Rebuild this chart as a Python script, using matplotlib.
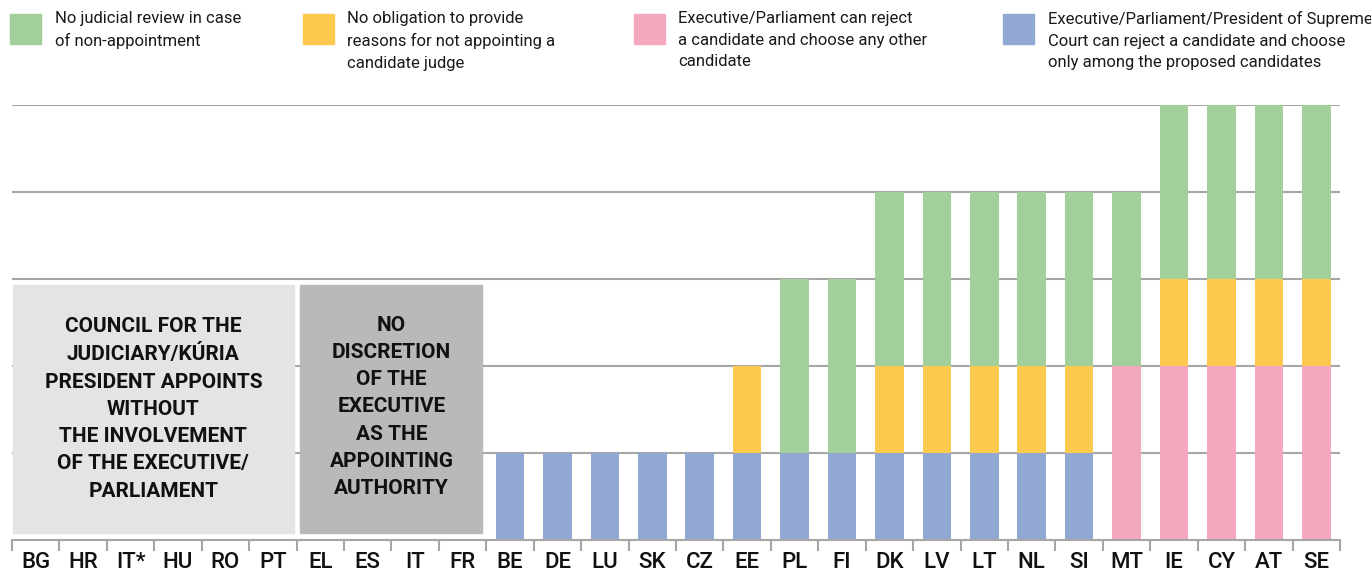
import matplotlib.pyplot as plt
from matplotlib.patches import Rectangle
import numpy as np

plt.rcParams['font.family'] = ['Roboto', 'DejaVu Sans']

countries = ['BG', 'HR', 'IT*', 'HU', 'RO', 'PT', 'EL', 'ES', 'IT', 'FR',
             'BE', 'DE', 'LU', 'SK', 'CZ', 'EE', 'PL', 'FI', 'DK', 'LV',
             'LT', 'NL', 'SI', 'MT', 'IE', 'CY', 'AT', 'SE']

# stacked layers, bottom to top
blue = [0] * 10 + [1] * 13 + [0] * 5
pink = [0] * 23 + [2] * 5
yellow = [0] * 15 + [1, 0, 0, 1, 1, 1, 1, 1, 0, 1, 1, 1, 1]
green = [0] * 16 + [2] * 12

labels = ['No judicial review in case\nof non-appointment',
          'No obligation to provide\nreasons for not appointing a\ncandidate judge',
          'Executive/Parliament can reject\na candidate and choose any other\ncandidate',
          'Executive/Parliament/President of Supreme\nCourt can reject a candidate and choose\nonly among the proposed candidates']
colors = ['#A3CF9B', '#FDC94F', '#F4A8BE', '#91A9D2']

box1_text = ('COUNCIL FOR THE\nJUDICIARY/KÚRIA\nPRESIDENT APPOINTS\nWITHOUT\n'
             'THE INVOLVEMENT\nOF THE EXECUTIVE/\nPARLIAMENT')
box2_text = 'NO\nDISCRETION\nOF THE\nEXECUTIVE\nAS THE\nAPPOINTING\nAUTHORITY'

fig = plt.figure(figsize=(13.71, 5.71), dpi=100)
ax = fig.add_axes([12 / 1371, 31 / 571, 1328 / 1371, 435 / 571])

x = np.arange(len(countries))
w = 0.6
b = np.array(blue)
p = np.array(pink)
y = np.array(yellow)
g = np.array(green)
ax.bar(x, b, w, color=colors[3], zorder=2)
ax.bar(x, p, w, bottom=b, color=colors[2], zorder=2)
ax.bar(x, y, w, bottom=b + p, color=colors[1], zorder=2)
ax.bar(x, g, w, bottom=b + p + y, color=colors[0], zorder=2)

# shaded groups without bars
ax.add_patch(Rectangle((-0.48, 0.08), 5.93, 2.85, color='#E4E4E4', zorder=3))
ax.add_patch(Rectangle((5.58, 0.08), 3.84, 2.85, color='#B9B9BB', zorder=3))
ax.text(2.48, 1.51, box1_text, ha='center', va='center', fontsize=15,
        fontweight='bold', linespacing=1.55, zorder=4, color='#111111')
ax.text(7.5, 1.53, box2_text, ha='center', va='center', fontsize=15,
        fontweight='bold', linespacing=1.55, zorder=4, color='#111111')

ax.set_xlim(-0.5, len(countries) - 0.5)
ax.set_ylim(0, 5)
for lvl in range(1, 6):
    ax.axhline(lvl, color='#A6A6A6', lw=1.5, zorder=1)
for s in ['top', 'right', 'left']:
    ax.spines[s].set_visible(False)
ax.spines['bottom'].set_color('#A6A6A6')
ax.spines['bottom'].set_linewidth(1.5)
ax.set_yticks([])
ax.set_xticks(x)
ax.set_xticklabels(countries, fontsize=16, fontweight='medium', color='#111111')
ax.tick_params(axis='x', which='major', length=0, pad=9)
ax.set_xticks(np.arange(-0.5, len(countries)), minor=True)
ax.tick_params(axis='x', which='minor', length=8, color='#A6A6A6', width=1.5)

# legend row
sq_x = [10, 303, 634, 1003]
txt_x = [55, 347, 678, 1048]
for i in range(4):
    fig.patches.append(Rectangle((sq_x[i] / 1371, 1 - 44 / 571), 31 / 1371, 30 / 571,
                                 transform=fig.transFigure, color=colors[i]))
    fig.text(txt_x[i] / 1371, 1 - 11 / 571, labels[i], ha='left', va='top',
             fontsize=12, linespacing=1.55, color='#1a1a1a')

fig.savefig('out.png', dpi=100)
